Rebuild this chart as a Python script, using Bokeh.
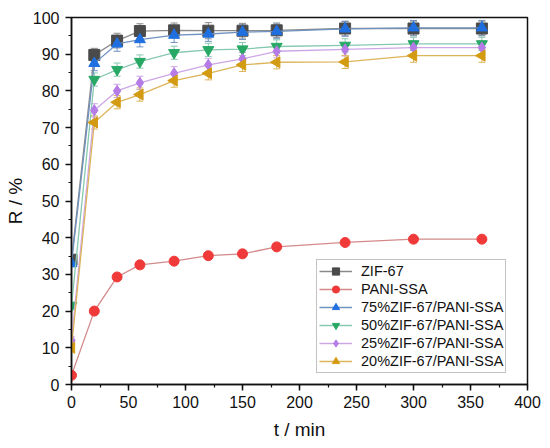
import math
from bokeh.plotting import figure
from bokeh.models import ColumnDataSource, Whisker, TeeHead, SingleIntervalTicker, Legend, LegendItem, Range1d
from bokeh.embed import file_html
from bokeh.resources import INLINE

t = [0, 20, 40, 60, 90, 120, 150, 180, 240, 300, 360]

zif67 = [34.0, 89.8, 93.7, 96.3, 96.5, 96.4, 96.4, 96.5, 97.0, 97.0, 97.0]
zif67_err = [1.0, 1.8, 2.0, 2.0, 2.0, 2.2, 2.0, 2.0, 2.0, 2.0, 2.0]
pani = [2.5, 20.0, 29.3, 32.6, 33.6, 35.1, 35.6, 37.5, 38.7, 39.6, 39.6]
pani_err = [0.3, 0.4, 0.4, 0.4, 0.4, 0.4, 0.4, 0.4, 0.4, 0.4, 0.4]
z75 = [33.0, 87.5, 92.8, 94.0, 95.2, 95.5, 96.0, 96.2, 96.9, 97.2, 97.2]
z75_err = [1.0, 2.0, 2.0, 2.0, 2.0, 2.0, 2.0, 2.0, 2.0, 2.0, 2.0]
z50 = [21.5, 83.1, 85.8, 88.0, 90.4, 91.2, 91.4, 92.1, 92.4, 92.8, 92.8]
z50_err = [1.0, 1.8, 1.8, 1.8, 1.8, 1.8, 1.8, 1.8, 1.8, 1.8, 1.8]
z25 = [12.0, 74.7, 80.0, 82.2, 84.8, 87.1, 88.7, 90.8, 91.3, 91.8, 91.8]
z25_err = [1.0, 1.8, 1.8, 1.8, 1.8, 1.8, 1.8, 1.8, 1.8, 1.8, 1.8]
z20 = [10.0, 71.4, 76.9, 79.0, 82.8, 84.8, 87.1, 87.8, 87.9, 89.6, 89.6]
z20_err = [1.0, 1.8, 1.8, 1.8, 1.8, 1.8, 1.8, 1.8, 1.8, 1.8, 1.8]

labels = ["ZIF-67", "PANI-SSA", "75%ZIF-67/PANI-SSA", "50%ZIF-67/PANI-SSA",
          "25%ZIF-67/PANI-SSA", "20%ZIF-67/PANI-SSA"]

series = [
    (zif67, zif67_err, "square", 0.0, "#4a4a4a", "#8a8a8a"),
    (pani, pani_err, "circle", 0.0, "#f03a3a", "#d48a8a"),
    (z75, z75_err, "triangle", 0.0, "#1f6fe0", "#6f92c0"),
    (z50, z50_err, "inverted_triangle", 0.0, "#27a865", "#86c8b0"),
    (z25, z25_err, "diamond", 0.0, "#b57be6", "#cda6e6"),
    (z20, z20_err, "triangle", 90.0, "#d39b12", "#dcb45a"),
]

p = figure(width=550, height=448, output_backend="svg", toolbar_location=None,
           x_range=Range1d(0, 400), y_range=Range1d(0, 100),
           min_border_left=71, min_border_top=17, min_border_right=23, min_border_bottom=64)
p.xgrid.visible = False
p.ygrid.visible = False
p.outline_line_color = "#111111"
p.outline_line_width = 1.5
p.background_fill_color = "white"
p.border_fill_color = "white"

items = []
for (vals, errs, mk, ang, mcol, lcol), lab in zip(series, labels):
    src = ColumnDataSource(dict(x=t, y=vals,
                                upper=[v + e for v, e in zip(vals, errs)],
                                lower=[v - e for v, e in zip(vals, errs)],
                                ang=[ang] * len(t)))
    w = Whisker(base="x", upper="upper", lower="lower", source=src,
                line_color=lcol, line_width=1.0,
                upper_head=TeeHead(size=7, line_color=lcol, line_width=1.0),
                lower_head=TeeHead(size=7, line_color=lcol, line_width=1.0))
    p.add_layout(w)
    r1 = p.line("x", "y", source=src, line_color=lcol, line_width=1.3)
    r2 = p.scatter("x", "y", source=src, marker=mk, angle="ang", angle_units="deg",
                   size=11 if mk != "circle" else 10,
                   fill_color=mcol, line_color=mcol)
    items.append(LegendItem(label=lab, renderers=[r1, r2], index=0))

legend = Legend(items=items, location=(245, 11), label_text_font="Liberation Sans",
                label_text_font_size="14.5px", label_text_color="#111111",
                glyph_width=33, glyph_height=18, label_height=18, spacing=0,
                padding=2, margin=0, label_standoff=9,
                border_line_color="#888888", border_line_width=1,
                background_fill_alpha=1.0)
p.add_layout(legend, "center")

for ax in (p.xaxis, p.yaxis):
    ax.axis_line_width = 1.5
    ax.axis_line_color = "#111111"
    ax.major_tick_in = 0
    ax.major_tick_out = 6
    ax.minor_tick_in = 0
    ax.minor_tick_out = 3
    ax.major_tick_line_width = 1.5
    ax.minor_tick_line_width = 1.2
    ax.major_tick_line_color = "#111111"
    ax.minor_tick_line_color = "#111111"
    ax.major_label_text_font = "Liberation Sans"
    ax.major_label_text_font_size = "16px"
    ax.major_label_text_color = "#111111"
    ax.axis_label_text_font = "Liberation Sans"
    ax.axis_label_text_font_size = "19px"
    ax.axis_label_text_font_style = "normal"
    ax.axis_label_text_color = "#111111"

p.xaxis.ticker = SingleIntervalTicker(interval=50, num_minor_ticks=2)
p.yaxis.ticker = SingleIntervalTicker(interval=10, num_minor_ticks=2)
p.xaxis.axis_label = "t / min"
p.yaxis.axis_label = "R / %"
p.xaxis.major_label_standoff = 5
p.yaxis.major_label_standoff = 6
p.xaxis.axis_label_standoff = 8
p.yaxis.axis_label_standoff = 4

open("out.html", "w").write(file_html(p, INLINE))
